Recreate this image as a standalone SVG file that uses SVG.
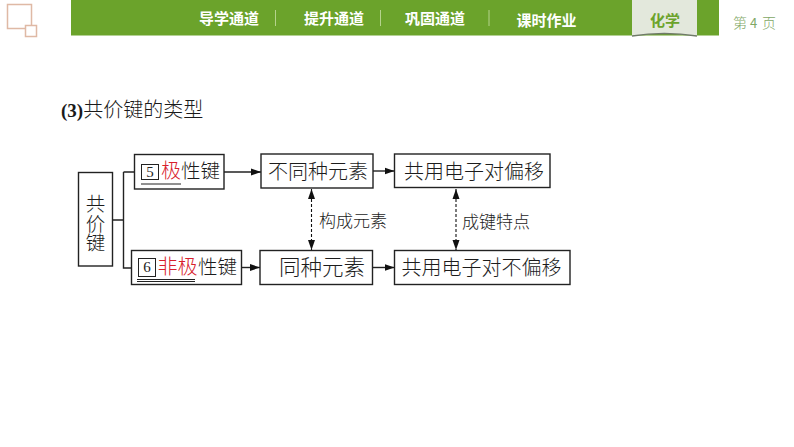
<svg xmlns="http://www.w3.org/2000/svg" width="794" height="447" viewBox="0 0 794 447">
<defs>
<marker id="arr" markerUnits="userSpaceOnUse" markerWidth="12" markerHeight="8" refX="10" refY="4" orient="auto-start-reverse"><path d="M0 0.5L10 4L0 7.5Z" fill="#111"/></marker>
</defs>
<style>
text{font-family:"Noto Sans CJK SC","Noto Sans CJK JP",sans-serif}
.box{fill:#fff;stroke:#222;stroke-width:1.4}
.t{font-size:20px;fill:#1c1c1c;font-weight:300}
.s{font-size:17px;fill:#1c1c1c;font-weight:300}
.c{fill:none;stroke:#222;stroke-width:1.4}
.d{fill:none;stroke:#111;stroke-width:1.1;stroke-dasharray:3 2}
.nav{font-size:15px;fill:#fff;font-weight:700}
.sep{stroke:#b5d38c;stroke-width:1}
.u{stroke:#222;stroke-width:1}
.r{fill:#d8202c}
.n{font-family:"Liberation Serif",serif;font-size:15px;fill:#222}
.pg{fill:#7fa866}
</style>
<rect width="794" height="447" fill="#fff"/>
<g id="header">
<rect x="7.500" y="4.500" width="24" height="24" fill="#fff" stroke="#dfb9a5" stroke-width="1.500"/>
<rect x="25.500" y="25.500" width="11" height="11" fill="#fff" stroke="#dfb9a5" stroke-width="1.500"/>
<rect x="71" y="0" width="648" height="35.500" fill="#6ba32b"/>
<text class="nav" x="229" y="24" text-anchor="middle">导学通道</text>
<line class="sep" x1="275.500" y1="10" x2="275.500" y2="26"/>
<text class="nav" x="334" y="24" text-anchor="middle">提升通道</text>
<line class="sep" x1="380.500" y1="10" x2="380.500" y2="26"/>
<text class="nav" x="435" y="24" text-anchor="middle">巩固通道</text>
<line class="sep" x1="489" y1="10" x2="489" y2="26"/>
<text class="nav" x="546.500" y="26" text-anchor="middle">课时作业</text>
<path d="M632 0H697V36Q664 31 632 36Z" fill="#e3e8dc"/>
<path d="M632 36Q664 31 697 36" fill="none" stroke="#6f7a68" stroke-width="1.500"/>
<text x="665" y="26" text-anchor="middle" style="font-size:15px;font-weight:700;fill:#6ba32b">化学</text>
<text class="pg" x="733" y="28" style="font-size:14px;font-weight:300">第</text>
<text class="pg" x="750" y="28" style="font-size:13px">4</text>
<text class="pg" x="762" y="28" style="font-size:14px;font-weight:300">页</text>
</g>
<g id="title">
<text x="61" y="117" style="font-size:20px;fill:#1a1a1a;font-weight:300"><tspan style="font-family:'Liberation Serif',serif;font-weight:700;font-size:19px">(3)</tspan>共价键的类型</text>
</g>
<g id="connectors">
<path class="c" d="M112 220H123.500M123.500 172H134.500M123.500 172V268H131.500"/>
<path class="c" d="M224 172H261" marker-end="url(#arr)"/>
<path class="c" d="M241 267.500H260" marker-end="url(#arr)"/>
<path class="c" d="M372.500 171H394.500" marker-end="url(#arr)"/>
<path class="c" d="M372.500 267.500H394.500" marker-end="url(#arr)"/>
<path class="d" d="M311.500 189V250" marker-start="url(#arr)" marker-end="url(#arr)"/>
<path class="d" d="M456 189V250" marker-start="url(#arr)" marker-end="url(#arr)"/>
</g>
<g id="node-gongjiajian">
<rect class="box" x="78.500" y="172.500" width="34" height="93.500"/>
<text class="t" x="95.500" y="194" style="writing-mode:vertical-rl;font-size:19.500px">共价键</text>
</g>
<g id="node-jixing">
<rect class="box" x="134.500" y="154.500" width="89.500" height="34.500"/>
<rect x="141.500" y="164.500" width="17" height="15" fill="#fff" stroke="#222" stroke-width="1"/>
<text class="n" x="150" y="177" text-anchor="middle">5</text>
<text class="t r" x="161" y="178">极</text>
<text class="t" x="181" y="178" style="font-size:19.500px">性键</text>
<line class="u" x1="141" y1="184" x2="181" y2="184"/>
</g>
<g id="node-feijixing">
<rect class="box" x="131.500" y="250.500" width="110" height="34"/>
<rect x="138.500" y="258.500" width="17" height="18" fill="#fff" stroke="#222" stroke-width="1"/>
<text class="n" x="147" y="272" text-anchor="middle">6</text>
<text class="t r" x="157.500" y="274">非极</text>
<text class="t" x="198" y="274" style="font-size:19.500px">性键</text>
<line class="u" x1="137" y1="279.500" x2="195" y2="279.500"/>
<line class="u" x1="137" y1="281.500" x2="195" y2="281.500"/>
</g>
<g id="node-butongzhong">
<rect class="box" x="261" y="154" width="112" height="34"/>
<text class="t" x="318" y="178.500" text-anchor="middle">不同种元素</text>
</g>
<g id="node-tongzhong">
<rect class="box" x="260" y="250.500" width="112.500" height="34"/>
<text class="t" x="279" y="275" style="font-size:21.500px">同种元素</text>
</g>
<g id="node-pianyi">
<rect class="box" x="394.500" y="154" width="155.500" height="33.500"/>
<text class="t" x="474" y="178.500" text-anchor="middle">共用电子对偏移</text>
</g>
<g id="node-bupianyi">
<rect class="box" x="394.500" y="250.500" width="175.500" height="34"/>
<text class="t" x="481.500" y="274.500" text-anchor="middle">共用电子对不偏移</text>
</g>
<text class="s" x="319" y="227">构成元素</text>
<text class="s" x="462" y="228">成键特点</text>
</svg>
